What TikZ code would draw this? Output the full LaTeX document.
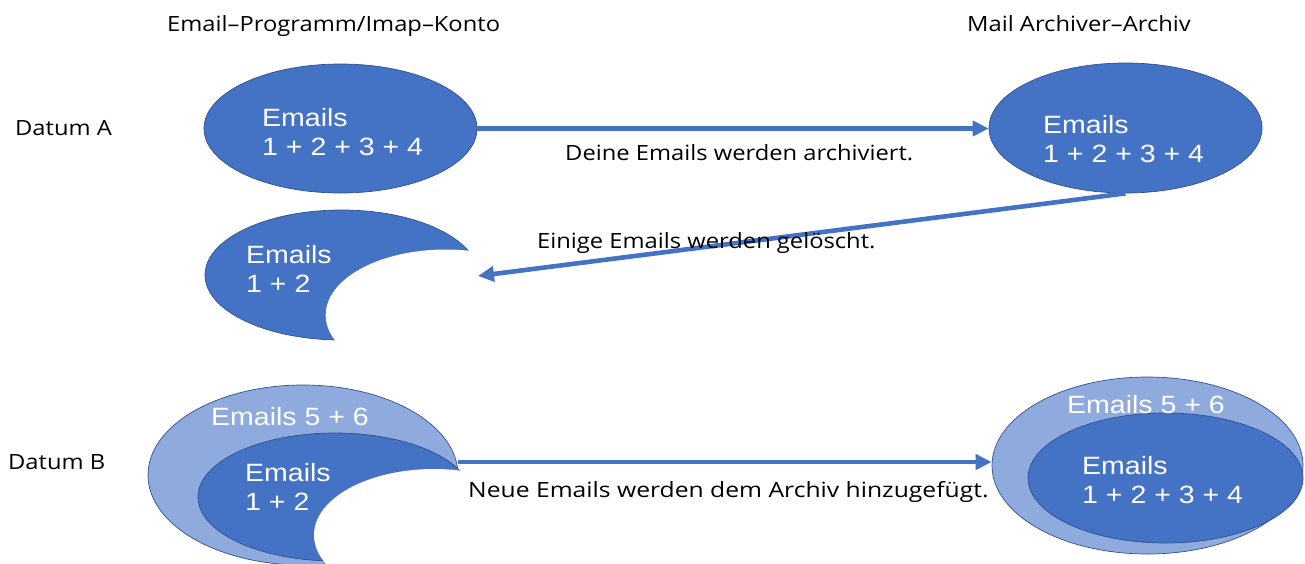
\documentclass[tikz,border=0pt]{standalone}
\usepackage{fontspec}
\setmainfont{Open Sans}
\newfontfamily\lblfont[FakeStretch=1.13]{Open Sans}
\newfontfamily\lblwidefont[FakeStretch=1.175]{Open Sans}
\newfontfamily\arialfont[FakeStretch=1.14]{Liberation Sans}
\usetikzlibrary{shapes.geometric,arrows.meta}
\definecolor{dkblue}{HTML}{4472C4}
\definecolor{ltblue}{HTML}{8FAADC}
\definecolor{edgeblue}{HTML}{2F528F}
\begin{document}
\begin{tikzpicture}[x=1pt,y=-1pt,
  blob/.style={ellipse, draw=edgeblue, line width=0.7pt, inner sep=0pt},
  dark/.style={blob, fill=dkblue},
  light/.style={blob, fill=ltblue},
  bite/.style={ellipse, fill=white, inner sep=0pt},
  intext/.style={text=white, font=\arialfont\fontsize{25}{29}\selectfont, align=left, inner sep=0pt, anchor=north west},
  lbl/.style={font=\lblfont\fontsize{21}{25}\selectfont, inner sep=0pt, anchor=base west},
  lblwide/.style={lbl, font=\lblwidefont\fontsize{21}{25}\selectfont},
  flow/.style={draw=dkblue, line width=4.6pt, -{Triangle[length=16pt,width=15pt]}}
]
\fill[white] (0,0) rectangle (1305,563);
\useasboundingbox (0,0) rectangle (1305,563);

% Datum A
\node[dark, minimum width=273, minimum height=129] (eA) at (340.5,128.5) {};
\node[dark, minimum width=273, minimum height=130] (rA) at (1125.5,128) {};
\node[dark, minimum width=273, minimum height=130] (cA) at (341.5,275) {};
\node[bite, minimum width=240, minimum height=131] (bA) at (445.7,315) {};

% Datum B
\node[light, minimum width=310, minimum height=180] (lB) at (303,475) {};
\node[dark, minimum width=274, minimum height=128] (cB) at (335,497) {};
\node[bite, minimum width=240, minimum height=132] (bB) at (434,535) {};
\node[light, minimum width=311, minimum height=177] (rB) at (1147.5,465.5) {};
\node[dark, minimum width=275, minimum height=130] (rB2) at (1165.5,478) {};

% connectors
\coordinate (cAtip) at (478,276);
\coordinate (cBtip) at (458,462);
\draw[flow] (eA.east) -- (eA.east -| rA.west);
\draw[flow] (rA.south) -- (cAtip);
\draw[flow] (cBtip) -- (cBtip -| rB.west);

% texts inside shapes
\node[intext] (tA1) at (262,108) {Emails\\1 + 2 + 3 + 4};
\node[intext] (tA2) at (1043,115) {Emails\\1 + 2 + 3 + 4};
\node[intext] (tC) at (246,245) {Emails\\1 + 2};
\node[intext] (tB1) at (211,407) {Emails 5 + 6};
\node[intext] (tB2) at (245,463) {Emails\\1 + 2};
\node[intext] (tR1) at (1067,395) {Emails 5 + 6};
\node[intext] (tR2) at (1082,456) {Emails\\1 + 2 + 3 + 4};

% labels
\node[lbl] (h1) at (167,31) {Email–Programm/Imap–Konto};
\node[lbl] (h2) at (967,31) {Mail Archiver–Archiv};
\node[lbl] (dA) at (15,135) {Datum A};
\node[lbl] (dB) at (8,469) {Datum B};
\node[lbl] (l1) at (565,160) {Deine Emails werden archiviert.};
\node[lbl] (l2) at (537,248) {Einige Emails werden gelöscht.};
\node[lblwide] (l3) at (468,497) {Neue Emails werden dem Archiv hinzugefügt.};
\end{tikzpicture}
\end{document}
